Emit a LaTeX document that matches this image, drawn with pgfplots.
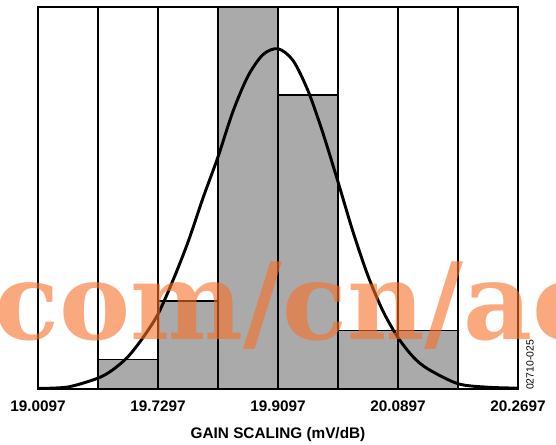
\documentclass[border=0pt]{standalone}
\usepackage{pgfplots}
\pgfplotsset{compat=1.18}
\usetikzlibrary{calc}
\usepackage{fontspec}
\setmainfont{Liberation Sans}
\newfontfamily\wmfont{DejaVu Serif}
\definecolor{bargray}{RGB}{170,170,170}
\definecolor{wmorange}{RGB}{247,110,38}
\begin{document}
\begin{tikzpicture}
\begin{axis}[
  scale only axis,
  width=360pt, height=286.5pt,
  xmin=0, xmax=8, ymin=0, ymax=13,
  clip=false,
  axis line style={black, line width=1.1pt},
  xtick={0,2,4,6,8},
  xticklabels={19.0097,19.7297,19.9097,20.0897,20.2697},
  minor xtick={1,3,5,7},
  ytick=\empty,
  major tick length=0pt, minor tick length=0pt,
  xmajorgrids, xminorgrids,
  major grid style={black, line width=1.1pt},
  minor grid style={black, line width=1.1pt},
  xticklabel style={font=\bfseries\fontsize{11.5}{12}\selectfont, yshift=-5pt},
  xlabel={GAIN SCALING (mV/dB)},
  xlabel style={font=\bfseries\fontsize{11.5}{12}\selectfont, yshift=-5.5pt},
]
\addplot[ybar interval, fill=bargray, draw=black, line width=1.1pt] coordinates {
(0,0) (1,1) (2,3) (3,13) (4,10) (5,2) (6,2) (7,0) (8,0)};
\addplot[smooth, black, line width=2.2pt, mark=none] coordinates {
(0,0.02) (0.5,0.07) (1.0,0.37) (1.25,0.66) (1.5,1.1) (1.75,1.75)
(2.0,2.55) (2.25,3.7) (2.5,5.0) (2.75,6.5) (3.0,7.9) (3.25,9.45)
(3.5,10.65) (3.75,11.38) (4.0,11.58) (4.25,11.18) (4.5,10.15) (4.75,8.7)
(5.0,7.05) (5.25,5.35) (5.5,3.85) (5.75,2.65) (6.0,1.75) (6.25,1.1)
(6.5,0.68) (7.0,0.18) (7.5,0.06) (8,0.03)};
\coordinate (ll) at (rel axis cs:0,0);
\coordinate (ur) at (rel axis cs:1,1);
\end{axis}
\node[rotate=90, font=\fontsize{7.8}{8}\selectfont, inner sep=0pt] at ($(ll -| ur)+(9pt,18pt)$) {02710-025};
\node[anchor=base west, inner sep=0pt, text=wmorange, opacity=0.6,
  font=\wmfont\bfseries\fontsize{80}{80}\selectfont] at ($(ll)+(-33pt,37pt)$) {com/cn/ac};
\pgfresetboundingbox
\path[use as bounding box] ($(ll)+(-28.5pt,-41.25pt)$) rectangle ($(ur)+(28.5pt,5.25pt)$);
\end{tikzpicture}
\end{document}
